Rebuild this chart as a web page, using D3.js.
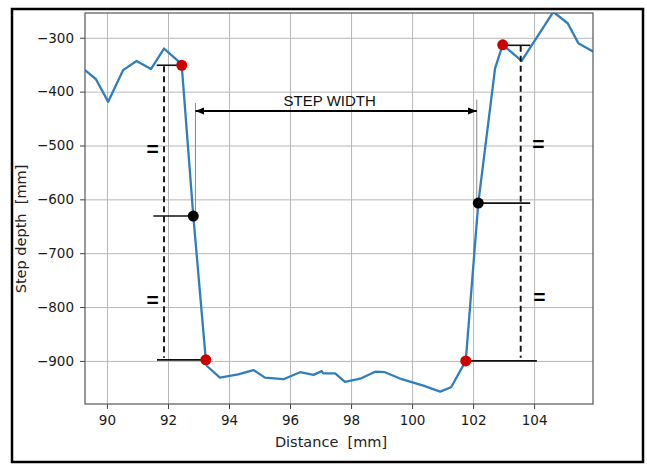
<!DOCTYPE html>
<html>
<head>
<meta charset="utf-8">
<script src="https://cdn.jsdelivr.net/npm/d3@7"></script>
<style>
  body { margin: 0; background: #fff; }
  svg { display: block; }
</style>
</head>
<body>
<svg id="chart" width="647" height="464"></svg>
<script>
// profile
const distance = [89.28, 89.64, 90.04, 90.53, 90.97, 91.44, 91.87, 92.29, 92.45, 92.83,
  93.24, 93.27, 93.70, 94.30, 94.80, 95.18, 95.78, 96.33, 96.77, 97.04, 97.09, 97.48,
  97.80, 98.30, 98.79, 99.11, 99.66, 100.37, 100.92, 101.28, 101.76, 102.17, 102.72,
  102.97, 103.59, 104.63, 105.10, 105.45, 105.94]
const depth = [-360, -377, -419, -360, -343, -358, -320, -341, -351, -631,
  -898, -909, -931, -925, -917, -931, -934, -921, -926, -919, -923, -923,
  -939, -933, -920, -921, -934, -946, -957, -949, -900, -607, -357,
  -313, -343, -252, -273, -310, -326]

// marked points
const redPts = [[92.45, -351], [93.24, -898], [101.76, -900], [102.97, -313]]
const blackPts = [[92.83, -631], [102.17, -607]]

const xTicks = [90, 92, 94, 96, 98, 100, 102, 104]
const yTicks = [-300, -400, -500, -600, -700, -800, -900]

// annotation lines (data coords)
const solidLines = [
  [[91.63, -351], [92.45, -351]],
  [[91.52, -631], [92.83, -631]],
  [[91.64, -898], [93.24, -898]],
  [[102.97, -314], [103.87, -314]],
  [[102.17, -607], [103.87, -607]],
  [[101.76, -900], [104.09, -900]]
]
const dashedLines = [
  [[91.87, -353], [91.87, -894]],
  [[103.56, -315], [103.56, -894]]
]
const guideLines = [
  [[92.90, -421], [92.90, -631]],
  [[102.12, -415], [102.12, -607]]
]
const arrow = [[92.90, -436], [102.12, -436]]
const equalSigns = [[91.50, -505], [91.50, -786], [104.14, -496], [104.17, -780]]

const svg = d3.select('#chart')
const pl = 85, pt = 13, pr = 593, pb = 404

const x = d3.scaleLinear().domain([89.28, 105.93]).range([pl, pr])
const y = d3.scaleLinear().domain([-980, -254]).range([pb, pt])

// outer frame
svg.append('rect')
  .attr('x', 12).attr('y', 9).attr('width', 631).attr('height', 453)
  .attr('fill', 'none').attr('stroke', '#000').attr('stroke-width', 2.5)

// grid
svg.append('g')
  .attr('transform', `translate(0,${pb})`)
  .call(d3.axisBottom(x).tickValues(xTicks).tickSize(-(pb - pt)).tickFormat(''))
  .call(g => g.select('.domain').remove())
  .selectAll('line').attr('stroke', '#b8b8b8').attr('stroke-width', 1)
svg.append('g')
  .attr('transform', `translate(${pl},0)`)
  .call(d3.axisLeft(y).tickValues(yTicks).tickSize(-(pr - pl)).tickFormat(''))
  .call(g => g.select('.domain').remove())
  .selectAll('line').attr('stroke', '#b8b8b8').attr('stroke-width', 1)

// axes
const xAxis = svg.append('g')
  .attr('transform', `translate(0,${pb})`)
  .call(d3.axisBottom(x).tickValues(xTicks).tickSize(5).tickPadding(6).tickFormat(d3.format('d')))
const yAxis = svg.append('g')
  .attr('transform', `translate(${pl},0)`)
  .call(d3.axisLeft(y).tickValues(yTicks).tickSize(5).tickPadding(6).tickFormat(d3.format('d')))
for (const ax of [xAxis, yAxis]) {
  ax.select('.domain').remove()
  ax.selectAll('line').attr('stroke', '#444')
  ax.selectAll('text')
    .attr('fill', '#1a1a1a')
    .style('font-family', 'DejaVu Sans')
    .style('font-size', '13.5px')
}

// clip for the line
svg.append('clipPath').attr('id', 'clip')
  .append('rect').attr('x', pl).attr('y', pt).attr('width', pr - pl).attr('height', pb - pt)

const line = d3.line().x((d, i) => x(distance[i])).y((d, i) => y(depth[i]))
svg.append('path')
  .datum(depth)
  .attr('clip-path', 'url(#clip)')
  .attr('d', line)
  .attr('fill', 'none')
  .attr('stroke', '#2f7fbf')
  .attr('stroke-width', 2.3)
  .attr('stroke-linejoin', 'round')

// plot frame
svg.append('rect')
  .attr('x', pl).attr('y', pt).attr('width', pr - pl).attr('height', pb - pt)
  .attr('fill', 'none').attr('stroke', '#555').attr('stroke-width', 1.2)

// annotations
const seg = d3.line().x(d => x(d[0])).y(d => y(d[1]))
svg.selectAll('path.solid')
  .data(solidLines)
  .enter()
  .append('path')
  .attr('class', 'solid')
  .attr('d', seg)
  .attr('stroke', '#111').attr('stroke-width', 1.6)
svg.selectAll('path.dashed')
  .data(dashedLines)
  .enter()
  .append('path')
  .attr('class', 'dashed')
  .attr('d', seg)
  .attr('stroke', '#111').attr('stroke-width', 1.9)
  .attr('stroke-dasharray', '6,4')
svg.selectAll('path.guide')
  .data(guideLines)
  .enter()
  .append('path')
  .attr('class', 'guide')
  .attr('d', seg)
  .attr('stroke', '#888').attr('stroke-width', 1)

const defs = svg.append('defs')
defs.append('marker')
  .attr('id', 'head')
  .attr('viewBox', '0 0 10 10')
  .attr('refX', 10).attr('refY', 5)
  .attr('markerWidth', 4.5).attr('markerHeight', 4.5)
  .attr('markerUnits', 'strokeWidth')
  .attr('orient', 'auto-start-reverse')
  .append('path')
  .attr('d', 'M0,1 L10,5 L0,9 z')
  .attr('fill', '#000')
svg.append('path')
  .attr('d', seg(arrow))
  .attr('stroke', '#000').attr('stroke-width', 2)
  .attr('marker-start', 'url(#head)')
  .attr('marker-end', 'url(#head)')

svg.append('text')
  .attr('x', x(97.30)).attr('y', y(-427))
  .attr('text-anchor', 'middle')
  .style('font-family', 'Liberation Sans, Arial, sans-serif')
  .style('font-size', '15px')
  .attr('fill', '#111')
  .text('STEP WIDTH')

svg.selectAll('text.eq')
  .data(equalSigns)
  .enter()
  .append('text')
  .attr('class', 'eq')
  .attr('x', d => x(d[0]))
  .attr('y', d => y(d[1]))
  .attr('text-anchor', 'middle')
  .attr('dominant-baseline', 'central')
  .style('font-family', 'Liberation Sans, Arial, sans-serif')
  .style('font-weight', 'bold')
  .style('font-size', '21px')
  .attr('fill', '#000')
  .text('=')

// points
svg.selectAll('circle.red')
  .data(redPts)
  .enter()
  .append('circle')
  .attr('class', 'red')
  .attr('cx', d => x(d[0])).attr('cy', d => y(d[1]))
  .attr('r', 5.5)
  .attr('fill', '#cc0000')
svg.selectAll('circle.black')
  .data(blackPts)
  .enter()
  .append('circle')
  .attr('class', 'black')
  .attr('cx', d => x(d[0])).attr('cy', d => y(d[1]))
  .attr('r', 5.5)
  .attr('fill', '#000')

// axis labels
svg.append('text')
  .attr('x', 331).attr('y', 447)
  .attr('text-anchor', 'middle')
  .attr('xml:space', 'preserve')
  .style('font-family', 'DejaVu Sans')
  .style('font-size', '14.5px')
  .attr('fill', '#222')
  .text('Distance  [mm]')
svg.append('text')
  .attr('transform', 'translate(26,229) rotate(-90)')
  .attr('text-anchor', 'middle')
  .attr('xml:space', 'preserve')
  .style('font-family', 'DejaVu Sans')
  .style('font-size', '14.5px')
  .attr('fill', '#222')
  .text('Step depth  [mm]')
</script>
</body>
</html>
